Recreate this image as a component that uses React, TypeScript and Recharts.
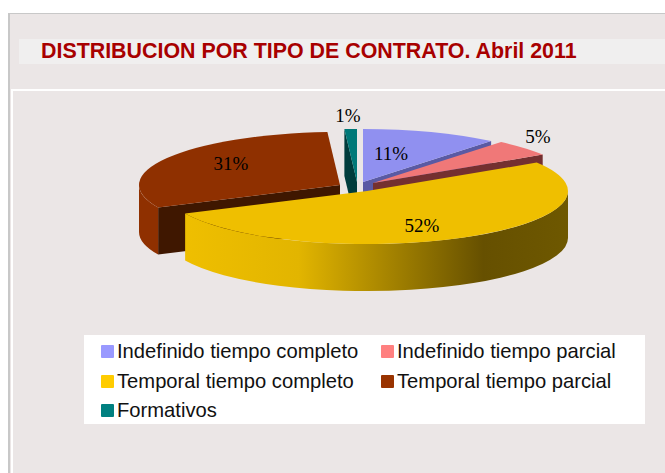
import { Legend, Pie, PieChart } from "recharts";

const CATEGORIES = [
  "Indefinido tiempo completo",
  "Indefinido tiempo parcial",
  "Temporal tiempo completo",
  "Temporal tiempo parcial",
  "Formativos",
];
const SHARE = [11, 5, 52, 31, 1];

// painted back to front, so the big yellow slice covers the others
const DRAW_ORDER = [3, 4, 0, 1, 2];
const ROWS = DRAW_ORDER.map((i) => ({ name: CATEGORIES[i], value: SHARE[i] }));

const LEGEND_COLORS = ["#9999FF", "#FF8080", "#FFCC00", "#993300", "#008080"];
const TOP_COLORS = ["#9090F0", "#F07878", "#EFBF00", "#8F3000", "#007878"];
const CUT_COLORS = ["#5A5AA4", "#743030", "#6B5500", "#3F1700", "#003C3C"];
const WALL_COLORS = ["#6C6CB4", "#B05858", "url(#yellowWall)", "#8F3000", "#005A5A"];

// exploded slices: shift of each slice from the pie centre, and of its label
const SHIFT = [[3, -4], [13, -3], [7, 5], [-20, -1], [-3, -4]];
const LABEL_AT = [[31, -33], [178, -50], [62, 39], [-129, -23], [-12, -71]];

const W = 665;
const H = 473;
const CX = 360;
const CY = 186;
const RADIUS = 201;
const TILT = 0.264;
const DEPTH = 47;
const FIRST_ANGLE = 205.2; // clockwise start so the blue slice begins at 12 o'clock

const pt = (x: number, y: number, a: number) => {
  const r = (a * Math.PI) / 180;
  return [x + RADIUS * Math.cos(r), y - RADIUS * TILT * Math.sin(r)];
};

function Slice3D(props: any) {
  const { name, startAngle, endAngle, cx, cy } = props;
  const i = CATEGORIES.indexOf(name);
  const x = cx + SHIFT[i][0];
  const y = cy + SHIFT[i][1];
  const ry = RADIUS * TILT;
  const [sx, sy] = pt(x, y, startAngle);
  const [ex, ey] = pt(x, y, endAngle);
  const large = startAngle - endAngle > 180 ? 1 : 0;
  const top = `M${x} ${y}L${sx} ${sy}A${RADIUS} ${ry} 0 ${large} 1 ${ex} ${ey}Z`;

  const walls: string[] = [];
  for (const off of [0, 360]) {
    const hi = Math.min(startAngle, off);
    const lo = Math.max(endAngle, off - 180);
    if (hi > lo) {
      const [ax, ay] = pt(x, y, hi);
      const [bx, by] = pt(x, y, lo);
      walls.push(
        `M${ax} ${ay}A${RADIUS} ${ry} 0 0 1 ${bx} ${by}L${bx} ${by + DEPTH}A${RADIUS} ${ry} 0 0 0 ${ax} ${ay + DEPTH}Z`,
      );
    }
  }

  const cuts: string[] = [];
  const face = (px: number, py: number) =>
    `M${x} ${y}L${px} ${py}L${px} ${py + DEPTH}L${x} ${y + DEPTH}Z`;
  if (Math.cos((startAngle * Math.PI) / 180) < -0.001) cuts.push(face(sx, sy));
  if (Math.cos((endAngle * Math.PI) / 180) > 0.001) cuts.push(face(ex, ey));

  return (
    <g>
      {cuts.map((d) => (
        <path key={d} d={d} fill={CUT_COLORS[i]} />
      ))}
      {walls.map((d) => (
        <path key={d} d={d} fill={WALL_COLORS[i]} />
      ))}
      <path d={top} fill={TOP_COLORS[i]} />
    </g>
  );
}

function PctLabel(props: any) {
  const i = CATEGORIES.indexOf(props.name);
  return (
    <text
      x={props.cx + LABEL_AT[i][0]}
      y={props.cy + LABEL_AT[i][1]}
      textAnchor="middle"
      dominantBaseline="central"
      fontFamily="Liberation Serif"
      fontSize={19}
      fill="#000"
    >
      {`${props.value}%`}
    </text>
  );
}

function LegendBox() {
  return (
    <div
      style={{
        display: "grid",
        gridTemplateColumns: "280px 260px",
        gridAutoRows: "29.5px",
        padding: "2px 0 0 17px",
        fontFamily: "Liberation Sans",
        fontSize: 20.2,
        color: "#111",
      }}
    >
      {CATEGORIES.map((c, i) => (
        <div key={c} style={{ display: "flex", alignItems: "center", whiteSpace: "nowrap" }}>
          <span
            style={{
              width: 13,
              height: 13,
              marginRight: 3,
              borderRadius: 1,
              background: LEGEND_COLORS[i],
            }}
          />
          {c}
        </div>
      ))}
    </div>
  );
}

export default function App() {
  return (
    <div style={{ position: "absolute", left: 0, top: 0, width: W, height: H, background: "#fff", overflow: "hidden" }}>
      <div
        style={{
          position: "absolute",
          left: 8,
          top: 13,
          width: W,
          height: H,
          background: "#EBE6E6",
          borderLeft: "2px solid #C8C8C8",
          borderTop: "1px solid #C8C8C8",
        }}
      />
      <div style={{ position: "absolute", left: 19, top: 39, width: W, height: 25, background: "#F0EFEF" }} />
      <div
        style={{
          position: "absolute",
          left: 41,
          top: 39,
          lineHeight: "25px",
          fontFamily: "Liberation Sans",
          fontWeight: "bold",
          fontSize: 21.4,
          color: "#A80000",
          whiteSpace: "nowrap",
        }}
      >
        DISTRIBUCION POR TIPO DE CONTRATO. Abril 2011
      </div>
      <div style={{ position: "absolute", left: 11, top: 89, width: W, height: 2, background: "#fff" }} />
      <div style={{ position: "absolute", left: 11, top: 89, width: 2, height: H, background: "#fff" }} />
      <div style={{ position: "absolute", left: 0, top: 0 }}>
        <PieChart width={W} height={H} margin={{ top: 0, right: 0, bottom: 0, left: 0 }}>
          <defs>
            <linearGradient id="yellowWall" gradientUnits="userSpaceOnUse" x1={183} y1={0} x2={568} y2={0}>
              <stop offset="0" stopColor="#EFBF00" />
              <stop offset="0.3" stopColor="#E2B500" />
              <stop offset="0.78" stopColor="#665000" />
              <stop offset="1" stopColor="#6E5800" />
            </linearGradient>
          </defs>
          <Pie
            data={ROWS}
            dataKey="value"
            nameKey="name"
            cx={CX}
            cy={CY}
            outerRadius={RADIUS}
            startAngle={FIRST_ANGLE}
            endAngle={FIRST_ANGLE - 360}
            stroke="none"
            shape={Slice3D}
            label={PctLabel}
            labelLine={false}
            isAnimationActive={false}
          />
          <Legend
            content={LegendBox}
            wrapperStyle={{ position: "absolute", left: 84, top: 335, width: 561, height: 89, background: "#fff" }}
          />
        </PieChart>
      </div>
    </div>
  );
}
